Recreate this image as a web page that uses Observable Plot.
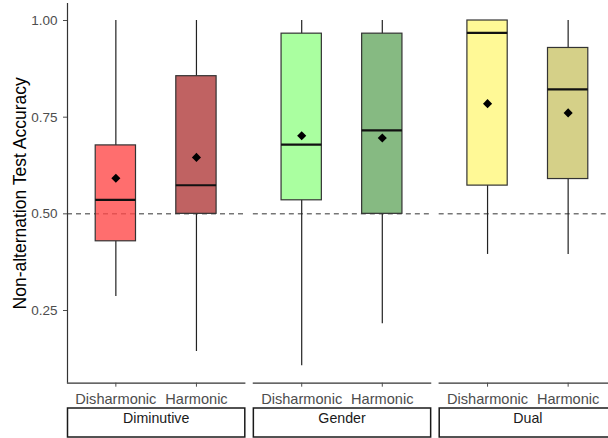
<!DOCTYPE html>
<html>
<head>
<meta charset="utf-8">
<script src="https://cdn.jsdelivr.net/npm/d3@7"></script>
<script src="https://cdn.jsdelivr.net/npm/@observablehq/plot@0.6"></script>
<style>
  html, body { margin: 0; padding: 0; overflow: hidden; background: #fff; }
  #chart { width: 617px; }
  #chart svg { display: block; max-width: none !important; font-family: "Liberation Sans", Arial, sans-serif; }
</style>
</head>
<body>
<div id="chart"></div>
<script>
// Facet panels and the two conditions shown in each
const groups = ["Diminutive", "Gender", "Dual"];
const conditions = ["Disharmonic", "Harmonic"];

// One entry per box, in panel order
const boxGroup    = ["Diminutive", "Diminutive", "Gender", "Gender", "Dual", "Dual"];
const boxCond     = ["Disharmonic", "Harmonic", "Disharmonic", "Harmonic", "Disharmonic", "Harmonic"];
const whiskerLow  = [0.286, 0.144, 0.107, 0.216, 0.395, 0.395];
const q1          = [0.429, 0.500, 0.535, 0.500, 0.573, 0.590];
const median      = [0.536, 0.574, 0.679, 0.716, 0.968, 0.822];
const q3          = [0.677, 0.856, 0.966, 0.966, 1.000, 0.929];
const whiskerHigh = [1.000, 1.000, 1.000, 1.000, 1.000, 1.000];
const means       = [0.592, 0.646, 0.702, 0.696, 0.785, 0.761];
const boxFill     = ["#ff4a4a", "#b03b3b", "#95ff88", "#68a963", "#fff87c", "#cac46a"];

const yTicks = [0.25, 0.50, 0.75, 1.00];
const chance = 0.5;
const yTitle = "Non-alternation Test Accuracy";

const rows = boxCond.map((c, i) => ({
  group: boxGroup[i],
  pos: conditions.indexOf(c) + 1,
  lo: whiskerLow[i], q1: q1[i], med: median[i], q3: q3[i], hi: whiskerHigh[i],
  mean: means[i], fill: boxFill[i]
}));

const xDomain = [0.4, 2.6];
const yDomain = [0.062, 1.044];
const half = 0.25;

const chart = Plot.plot({
  width: 617,
  height: 438,
  marginLeft: 67,
  marginRight: 1,
  marginTop: 3,
  marginBottom: 55.3,
  style: { background: "white", maxWidth: "none", fontFamily: "Liberation Sans, Arial, sans-serif" },
  fx: { domain: groups, paddingInner: 0.046, paddingOuter: 0, round: false, axis: null },
  x: { domain: xDomain, axis: null },
  y: { domain: yDomain, axis: null },
  color: { type: "identity" },
  marks: [
    // chance level
    Plot.ruleY([chance], { stroke: "#333", strokeWidth: 1, strokeDasharray: "5,4" }),
    // whiskers
    Plot.ruleX(rows, { fx: "group", x: "pos", y1: "lo", y2: "q1", stroke: "#222", strokeWidth: 1.2 }),
    Plot.ruleX(rows, { fx: "group", x: "pos", y1: "q3", y2: "hi", stroke: "#222", strokeWidth: 1.2 }),
    // boxes
    Plot.rect(rows, {
      fx: "group",
      x1: d => d.pos - half, x2: d => d.pos + half,
      y1: "q1", y2: "q3",
      fill: "fill", fillOpacity: 0.8,
      stroke: "#333", strokeWidth: 1.2
    }),
    // medians
    Plot.ruleY(rows, {
      fx: "group",
      x1: d => d.pos - half, x2: d => d.pos + half,
      y: "med", stroke: "#111", strokeWidth: 2.2
    }),
    // means
    Plot.dot(rows, { fx: "group", x: "pos", y: "mean", symbol: "diamond2", r: 4.1, fill: "black", stroke: "none" }),
    // axis lines
    Plot.frame({ anchor: "bottom", stroke: "#333", strokeWidth: 1.2 }),
    Plot.ruleX([groups[0]], { fx: d => d, x: () => xDomain[0], stroke: "#333", strokeWidth: 1.2 }),
    // y ticks on the first panel
    Plot.axisY({
      ticks: yTicks, tickFormat: d3.format(".2f"),
      tickSize: 4, tickPadding: 6, fontSize: 13.5, color: "#4d4d4d", label: null
    }),
    // x ticks in every panel
    Plot.axisX({
      ticks: [1, 2], tickFormat: d => conditions[d - 1],
      tickSize: 4, tickPadding: 6, fontSize: 14.6, color: "#4d4d4d", label: null
    }),
    // facet strips below the panels
    Plot.frame({ stroke: "#1a1a1a", strokeWidth: 1.5, fill: "white", insetTop: 404.5, insetBottom: -53.8 }),
    Plot.text(groups, { fx: d => d, text: d => d, frameAnchor: "bottom", dy: 39.5, fontSize: 14.2, fill: "#1a1a1a" }),
    // y title
    Plot.text([groups[0]], {
      fx: d => d, text: () => yTitle, frameAnchor: "left", textAnchor: "middle", rotate: -90, dx: -47,
      fontSize: 17.5, fill: "black"
    })
  ]
});

document.getElementById("chart").append(chart);
</script>
</body>
</html>
